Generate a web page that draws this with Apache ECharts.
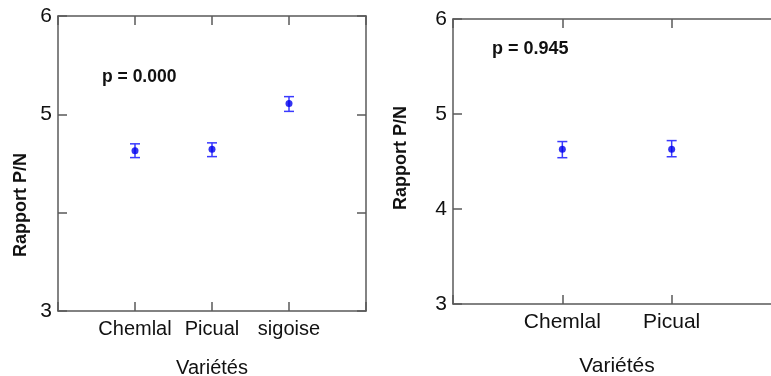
<!DOCTYPE html>
<html>
<head>
<meta charset="utf-8">
<script src="https://cdn.jsdelivr.net/npm/echarts@6/dist/echarts.min.js"></script>
<style>html,body{margin:0;padding:0;background:#fff}#c{width:771px;height:376px}</style>
</head>
<body>
<div id="c"></div>
<script>
// Left panel data
var categoriesA = ['Chemlal', 'Picual', 'sigoise'];
var meanA = [4.63, 4.645, 5.11];
var lowA = [4.56, 4.57, 5.03];
var highA = [4.70, 4.71, 5.18];
var yTickLabelsA = ['3', '', '5', '6'];
var pTextA = 'p = 0.000';

// Right panel data
var categoriesB = ['Chemlal', 'Picual'];
var meanB = [4.63, 4.63];
var lowB = [4.54, 4.55];
var highB = [4.71, 4.72];
var yTickLabelsB = ['3', '4', '5', '6'];
var pTextB = 'p = 0.945';

var yAxisName = 'Rapport P/N';
var xAxisName = 'Variétés';

var FONT = 'Liberation Sans, Arial, sans-serif';
var AXC = '#5a5a5a';
var BLUE = '#0000ee';
var BAR = '#3a3aff';

function pts(means) { return means.map(function (m, i) { return [i + 1, m]; }); }
function errs(lo, hi) { return lo.map(function (l, i) { return [i + 1, l, hi[i]]; }); }

function errRender(params, api) {
  var x = api.value(0);
  var lo = api.coord([x, api.value(1)]);
  var hi = api.coord([x, api.value(2)]);
  var w = 5;
  var st = { stroke: BAR, lineWidth: 1.5 };
  return {
    type: 'group',
    children: [
      { type: 'line', shape: { x1: lo[0], y1: lo[1], x2: hi[0], y2: hi[1] }, style: st },
      { type: 'line', shape: { x1: lo[0] - w, y1: lo[1], x2: lo[0] + w, y2: lo[1] }, style: st },
      { type: 'line', shape: { x1: hi[0] - w, y1: hi[1], x2: hi[0] + w, y2: hi[1] }, style: st }
    ]
  };
}

function xAxes(gridIndex, cats, nameGap, nameSize, labelSize) {
  var n = cats.length;
  var base = {
    gridIndex: gridIndex, type: 'value', min: 0, max: n + 1, interval: 1,
    splitLine: { show: false },
    axisLine: { show: true, onZero: false, lineStyle: { color: AXC, width: 1.5 } },
    axisTick: { show: true, inside: true, length: 9, lineStyle: { color: AXC, width: 1.5 } }
  };
  var bottom = Object.assign({}, base, {
    position: 'bottom',
    name: xAxisName, nameLocation: 'middle', nameGap: nameGap,
    nameTextStyle: { fontSize: nameSize, color: '#111', fontFamily: FONT },
    axisLabel: {
      margin: 8, fontSize: labelSize, color: '#111', fontFamily: FONT,
      formatter: function (v) { return (v >= 1 && v <= n) ? cats[v - 1] : ''; }
    }
  });
  var top = Object.assign({}, base, { position: 'top', axisLabel: { show: false } });
  return [bottom, top];
}

function yAxes(gridIndex, labels) {
  var base = {
    gridIndex: gridIndex, type: 'value', min: 3, max: 6, interval: 1,
    splitLine: { show: false },
    axisLine: { show: true, onZero: false, lineStyle: { color: AXC, width: 1.5 } },
    axisTick: { show: true, inside: true, length: 9, lineStyle: { color: AXC, width: 1.5 } }
  };
  var left = Object.assign({}, base, {
    position: 'left',
    axisLabel: {
      margin: 6, fontSize: 21, color: '#111', fontFamily: FONT,
      formatter: function (v) { return labels[Math.round(v) - 3]; }
    }
  });
  var right = Object.assign({}, base, { position: 'right', axisLabel: { show: false } });
  return [left, right];
}

var xa = xAxes(0, categoriesA, 47, 20, 20).concat(xAxes(1, categoriesB, 52, 21, 21));
var ya = yAxes(0, yTickLabelsA).concat(yAxes(1, yTickLabelsB));

var option = {
  animation: false,
  backgroundColor: '#fff',
  grid: [
    { left: 58, top: 16, width: 308, height: 295, outerBoundsMode: 'none', containLabel: false },
    { left: 453, top: 19, width: 328, height: 285, outerBoundsMode: 'none', containLabel: false }
  ],
  xAxis: xa,
  yAxis: ya,
  series: [
    { type: 'custom', xAxisIndex: 0, yAxisIndex: 0, data: errs(lowA, highA), renderItem: errRender, z: 2 },
    { type: 'scatter', xAxisIndex: 0, yAxisIndex: 0, data: pts(meanA), symbol: 'circle', symbolSize: 7, itemStyle: { color: BLUE }, z: 3 },
    { type: 'custom', xAxisIndex: 2, yAxisIndex: 2, data: errs(lowB, highB), renderItem: errRender, z: 2 },
    { type: 'scatter', xAxisIndex: 2, yAxisIndex: 2, data: pts(meanB), symbol: 'circle', symbolSize: 7, itemStyle: { color: BLUE }, z: 3 }
  ],
  graphic: [
    { type: 'text', left: 102, top: 68, style: { text: pTextA, fontSize: 17.5, fontWeight: 'bold', fontFamily: FONT, fill: '#111' } },
    { type: 'text', left: 492, top: 40, style: { text: pTextB, fontSize: 18, fontWeight: 'bold', fontFamily: FONT, fill: '#111' } },
    { type: 'text', x: 21, y: 205, rotation: Math.PI / 2, style: { text: yAxisName, fontSize: 18, fontWeight: 'bold', fontFamily: FONT, fill: '#111', align: 'center', verticalAlign: 'middle' } },
    { type: 'text', x: 401, y: 158, rotation: Math.PI / 2, style: { text: yAxisName, fontSize: 18, fontWeight: 'bold', fontFamily: FONT, fill: '#111', align: 'center', verticalAlign: 'middle' } }
  ]
};

var chart = echarts.init(document.getElementById('c'), null, { renderer: 'canvas' });
chart.setOption(option);
</script>
</body>
</html>
